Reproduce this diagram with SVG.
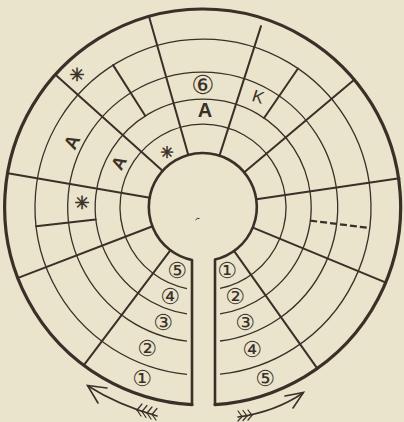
<svg xmlns="http://www.w3.org/2000/svg" width="404" height="422" viewBox="0 0 404 422">
<style>
.bg{fill:#e9e4cb}
.outer{fill:none;stroke:#3a3028;stroke-width:3.2;stroke-linecap:round}
.inner{fill:none;stroke:#3a3028;stroke-width:2.6;stroke-linejoin:round}
.ring{fill:none;stroke:#3a3028;stroke-width:1.3}
.rad{stroke:#3a3028;stroke-width:2;stroke-linecap:round}
.dash{stroke:#3a3028;stroke-width:2.2;stroke-dasharray:7 3}
.arr{fill:none;stroke:#3a3028;stroke-width:1.6;stroke-linecap:round}
.feat{stroke:#3a3028;stroke-width:1.2;stroke-linecap:round}
.lbl{fill:#3a3028;font-family:"DejaVu Sans","Noto Sans CJK JP",sans-serif;text-anchor:middle;dominant-baseline:central}
.star{stroke:#3a3028;stroke-width:0.6}
.let{fill:#3a3028;font-family:"Liberation Sans",Arial,sans-serif;text-anchor:middle;dominant-baseline:central}
</style>
<rect class="bg" x="0" y="0" width="404" height="422"/>
<g id="frame">
<path class="outer" d="M 192 404.7 A 198 198 0 1 1 215 404.6"/>
<path class="inner" d="M 192 404.7 L 192 259.9 A 54 54 0 1 1 215 259.6 L 215 404.6"/>
<path class="ring" d="M 187 288.6 A 83 83 0 1 1 220 288.4"/>
<path class="ring" d="M 187 313.9 A 108 108 0 1 1 220 313.8"/>
<path class="ring" d="M 187 341.2 A 135 135 0 1 1 220 341.0"/>
<path class="ring" d="M 187 374.3 A 168 168 0 1 1 220 374.2"/>
<path d="M195.5 220 q1.5 -2.5 4 -1.5" fill="none" stroke="#3a3028" stroke-width="1"/>
</g>
<g id="connectors">
<line class="rad" x1="188.3" y1="155.1" x2="149.0" y2="16.5"/>
<line class="rad" x1="219.5" y1="155.6" x2="261" y2="26.1"/>
<line class="rad" x1="244.3" y1="172.2" x2="354.5" y2="79.5"/>
<line class="rad" x1="256.4" y1="199.2" x2="399.5" y2="178.3"/>
<line class="rad" x1="252.9" y1="227.6" x2="386" y2="282.6"/>
<line class="rad" x1="234.2" y1="251.1" x2="317.4" y2="368.6"/>
<line class="rad" x1="170.5" y1="250.1" x2="83.9" y2="365.2"/>
<line class="rad" x1="152.6" y1="226.3" x2="18.1" y2="277.9"/>
<line class="rad" x1="149.8" y1="197.8" x2="7.9" y2="173.3"/>
<line class="rad" x1="162.8" y1="170.9" x2="55.5" y2="74.8"/>
<line class="rad" x1="145.2" y1="115.8" x2="113.1" y2="65.1"/>
<line class="rad" x1="264.1" y1="118.0" x2="298" y2="68.5"/>
<line class="rad" x1="95.7" y1="219.4" x2="36.1" y2="226.2"/>
<line class="dash" x1="310.2" y1="220.6" x2="370" y2="228.1"/>
</g>
<g id="labels-top">
<text class="lbl star" x="77" y="74" font-size="18">✳︎</text>
<text class="let" x="72" y="142" font-size="19" font-weight="bold" transform="rotate(-64 72 142)">A</text>
<text class="let" x="119" y="163" font-size="18" font-weight="bold" transform="rotate(-62 119 163)">A</text>
<text class="lbl star" x="167" y="152" font-size="16">✳︎</text>
<text class="lbl star" x="82" y="202" font-size="18">✳︎</text>
<text class="lbl" x="203" y="85" font-size="26">⑥</text>
<text class="let" x="205" y="110" font-size="20" font-weight="bold">A</text>
<text class="let" x="258" y="97" font-size="17" transform="rotate(18 258 97)">K</text>
</g>
<g id="labels-left">
<text class="lbl" x="177" y="270" font-size="22">⑤</text>
<text class="lbl" x="170" y="296" font-size="22">④</text>
<text class="lbl" x="163" y="322" font-size="22">③</text>
<text class="lbl" x="147" y="348" font-size="22">②</text>
<text class="lbl" x="142" y="378" font-size="22">①</text>
</g>
<g id="labels-right">
<text class="lbl" x="227" y="270" font-size="22">①</text>
<text class="lbl" x="235" y="296" font-size="22">②</text>
<text class="lbl" x="245" y="322" font-size="22">③</text>
<text class="lbl" x="252" y="349" font-size="22">④</text>
<text class="lbl" x="265" y="378" font-size="22">⑤</text>
</g>
<g id="arrow-left">
<path class="arr" d="M 157 416 Q 118 405 88 386"/>
<path class="arr" d="M 107 388 L 87.5 385.5 L 98 403"/>
<g class="feat">
<line x1="137" y1="410" x2="142" y2="404"/><line x1="137" y1="410" x2="141" y2="416"/>
<line x1="142" y1="411.5" x2="147" y2="405.5"/><line x1="142" y1="411.5" x2="146" y2="417.5"/>
<line x1="147" y1="413" x2="152" y2="407"/><line x1="147" y1="413" x2="151" y2="419"/>
<line x1="152" y1="414.5" x2="157" y2="408.5"/><line x1="152" y1="414.5" x2="156" y2="420"/>
</g>
</g>
<g id="arrow-right">
<path class="arr" d="M 238 417 Q 275 412 303 393"/>
<path class="arr" d="M 285 396 L 303.5 392.5 L 293 408"/>
<g class="feat">
<line x1="242" y1="416.5" x2="238" y2="411"/><line x1="242" y1="416.5" x2="238" y2="421"/>
<line x1="247" y1="416" x2="243" y2="410.5"/><line x1="247" y1="416" x2="243" y2="420.5"/>
<line x1="252" y1="415.3" x2="248" y2="410"/><line x1="252" y1="415.3" x2="248" y2="420"/>
</g>
</g>
</svg>
